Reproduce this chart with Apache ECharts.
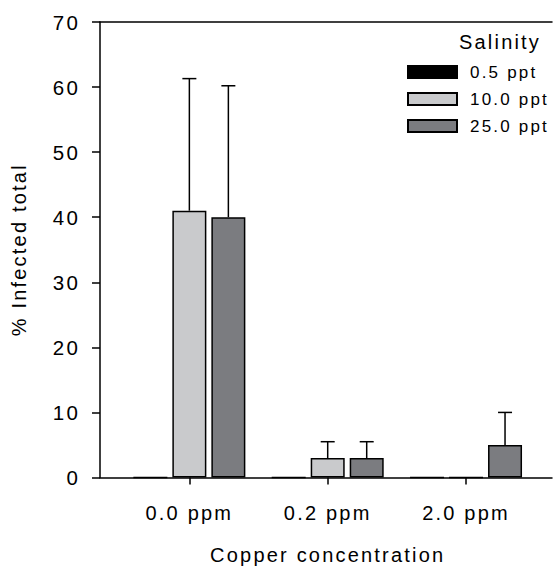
<!DOCTYPE html>
<html>
<head>
<meta charset="utf-8">
<script src="https://cdn.jsdelivr.net/npm/echarts@6/dist/echarts.min.js"></script>
<style>
  html, body { margin: 0; padding: 0; background: #fff; }
  #chart { width: 553px; height: 567px; }
  #chart text { letter-spacing: 2.2px; }
</style>
</head>
<body>
<div id="chart"></div>
<script>
// ---- data ----
const categories = ['0.0 ppm', '0.2 ppm', '2.0 ppm'];
const seriesNames = ['0.5 ppt', '10.0 ppt', '25.0 ppt'];
const infected05 = [0, 0, 0];
const infected10 = [41, 3, 0];
const infected25 = [40, 3, 5];
const upper10 = [61.3, 5.5, null];   // top of error bar
const upper25 = [60.2, 5.5, 10];
const yMin = 0, yMax = 70, yStep = 10;

const FONT = "'Liberation Sans', Arial, sans-serif";
const BAR_W = 34, BAR_GAP = 5;

function errData(vals, ups) {
  const out = [];
  vals.forEach((v, i) => { if (ups[i] != null) out.push([i, v, ups[i]]); });
  return out;
}
function errSeries(name, vals, ups, slot) {
  return {
    type: 'custom', name: name + ' err', xAxisIndex: 2, yAxisIndex: 1, z: 5,
    data: errData(vals, ups),
    encode: { x: 0, y: [1, 2] },
    renderItem: function (params, api) {
      const c = api.value(0);
      const b = api.coord([c, api.value(1)]);
      const t = api.coord([c, api.value(2)]);
      const x = b[0] + (slot - 1) * (BAR_W + BAR_GAP);
      const st = { stroke: '#000', lineWidth: 1.5 };
      return { type: 'group', children: [
        { type: 'line', shape: { x1: x, y1: b[1], x2: x, y2: t[1] }, style: st },
        { type: 'line', shape: { x1: x - 7, y1: t[1], x2: x + 7, y2: t[1] }, style: st }
      ]};
    }
  };
}

const chart = echarts.init(document.getElementById('chart'), null, { renderer: 'svg' });
const axisLineStyle = { color: '#000', width: 1.5 };
chart.setOption({
  animation: false,
  backgroundColor: '#fff',
  textStyle: { fontFamily: FONT, color: '#000' },
  title: {
    text: 'Salinity', left: 459, top: 32, padding: 0,
    textStyle: { fontFamily: FONT, fontSize: 20, fontWeight: 'normal', color: '#000' }
  },
  legend: {
    data: seriesNames, orient: 'vertical', left: 407, top: 62, padding: 0,
    itemWidth: 49, itemHeight: 12, itemGap: 7, icon: 'rect', selectedMode: false,
    textStyle: { fontFamily: FONT, fontSize: 17, color: '#000', lineHeight: 20, padding: [0, 0, 0, 8] }
  },
  grid: [
    { left: 100, right: 1, top: 22, bottom: 89.5, outerBoundsMode: 'none', containLabel: false },
    { left: 120.2, right: 17.8, top: 22, bottom: 89.5, outerBoundsMode: 'none', containLabel: false }
  ],
  xAxis: [
    { gridIndex: 0, type: 'value', min: 0, max: 1, position: 'bottom',
      axisLine: { show: true, lineStyle: axisLineStyle }, axisTick: { show: false },
      axisLabel: { show: false }, splitLine: { show: false } },
    { gridIndex: 0, type: 'value', min: 0, max: 1, position: 'top',
      axisLine: { show: true, lineStyle: axisLineStyle }, axisTick: { show: false },
      axisLabel: { show: false }, splitLine: { show: false } },
    { gridIndex: 1, type: 'category', data: categories, position: 'bottom',
      axisLine: { show: false },
      axisTick: { show: true, alignWithLabel: true, length: 7, lineStyle: axisLineStyle },
      axisLabel: { interval: 0, margin: 25, fontSize: 20, color: '#000', fontFamily: FONT },
      name: 'Copper concentration', nameLocation: 'middle', nameGap: 67,
      nameTextStyle: { fontSize: 20, color: '#000', fontFamily: FONT } }
  ],
  yAxis: [
    { gridIndex: 0, type: 'value', min: yMin, max: yMax, interval: yStep,
      axisLine: { show: true, lineStyle: axisLineStyle },
      axisTick: { show: true, length: 8, lineStyle: axisLineStyle },
      axisLabel: { margin: 20, fontSize: 20.5, color: '#000', fontFamily: FONT },
      splitLine: { show: false },
      name: '% Infected total', nameLocation: 'middle', nameGap: 71,
      nameTextStyle: { fontSize: 20, color: '#000', fontFamily: FONT } },
    { gridIndex: 1, type: 'value', min: yMin, max: yMax, interval: yStep, show: false }
  ],
  series: [
    { type: 'bar', name: seriesNames[0], data: infected05, xAxisIndex: 2, yAxisIndex: 1,
      barWidth: BAR_W, barGap: (BAR_GAP / BAR_W * 100) + '%',
      itemStyle: { color: '#000', borderColor: '#000', borderWidth: 1.5 } },
    { type: 'bar', name: seriesNames[1], data: infected10, xAxisIndex: 2, yAxisIndex: 1,
      barWidth: BAR_W, barGap: (BAR_GAP / BAR_W * 100) + '%',
      itemStyle: { color: '#c9cacc', borderColor: '#000', borderWidth: 1.5 } },
    { type: 'bar', name: seriesNames[2], data: infected25, xAxisIndex: 2, yAxisIndex: 1,
      barWidth: BAR_W, barGap: (BAR_GAP / BAR_W * 100) + '%',
      itemStyle: { color: '#7b7c80', borderColor: '#000', borderWidth: 1.5 } },
    errSeries(seriesNames[1], infected10, upper10, 1),
    errSeries(seriesNames[2], infected25, upper25, 2)
  ]
});
</script>
</body>
</html>
